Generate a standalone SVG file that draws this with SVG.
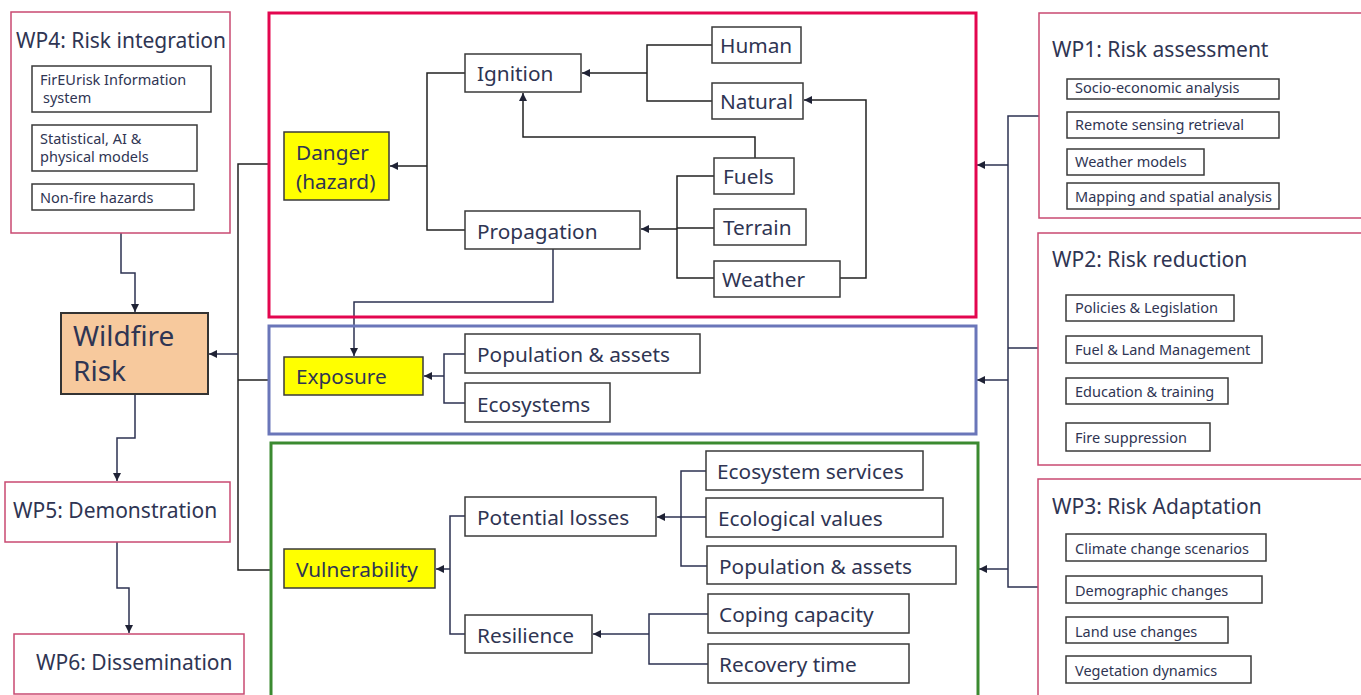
<svg xmlns="http://www.w3.org/2000/svg" width="1361" height="695" viewBox="0 0 1361 695">
<defs>
<marker id="arr" markerUnits="userSpaceOnUse" markerWidth="9" markerHeight="9" refX="8" refY="4" orient="auto">
<path d="M0,0 L8,4 L0,8 z" fill="#1f2235"/>
</marker>
<style>
text{font-family:"Noto Sans","Open Sans","DejaVu Sans",sans-serif;fill:#2f3553}
.wp{fill:#fff;stroke:#c94a72;stroke-width:1.5}
.box{fill:#fff;stroke:#3a3a3a;stroke-width:1.5}
.key{fill:#ffff00;stroke:#3a3a3a;stroke-width:1.5}
.t20{font-size:20.8px}
.tt{font-size:21px}
.t14{font-size:14.5px}
.c{fill:none;stroke:#222;stroke-width:1.5}
.n{fill:none;stroke:#2d3252;stroke-width:1.5}
.a{marker-end:url(#arr)}
</style>
</defs>
<rect width="1361" height="695" fill="#fff"/>

<g id="connectors">
<path class="n a" d="M121,233 V273 H135 V312"/>
<path class="n a" d="M135,394 V438 H117 V481"/>
<path class="n a" d="M117,542 V588 H129 V633"/>
<path class="c" d="M270,164 H238 V570 H271 M238,380 H270"/>
<path class="n a" d="M238,354 H209"/>
<path class="c" d="M465,73 H427 V230 H465"/>
<path class="c a" d="M427,166 H390"/>
<path class="c" d="M712,45 H647 V101 H712"/>
<path class="c a" d="M647,73 H582"/>
<path class="c a" d="M755,158 V137 H523 V93"/>
<path class="c a" d="M840,278 H866 V100 H804"/>
<path class="c" d="M714,176 H677 V278 H714 M677,228 H714"/>
<path class="c a" d="M677,229 H641"/>
<path class="n a" d="M553,249 V302 H354 V356"/>
<path class="n" d="M465,354 H444 V403 H465"/>
<path class="n a" d="M444,376 H424"/>
<path class="n" d="M465,516 H450 V634 H465"/>
<path class="n a" d="M450,569 H436"/>
<path class="n" d="M706,471 H681 V566 H707 M681,517 H706"/>
<path class="n a" d="M681,517 H657"/>
<path class="n" d="M708,614 H649 V664 H708"/>
<path class="n a" d="M649,634 H593"/>
<path class="n" d="M1039,116 H1008 V587 H1038 M1008,348 H1038"/>
<path class="n a" d="M1008,165 H977"/>
<path class="n a" d="M1008,380 H977"/>
<path class="n a" d="M1008,569 H979"/>
</g>

<g id="wp4">
<rect class="wp" x="11" y="12" width="219" height="221"/>
<text class="tt" x="16" y="48">WP4: Risk integration</text>
<rect class="box" x="32" y="66" width="179" height="46"/>
<text class="t14" x="40" y="85">FirEUrisk Information</text>
<text class="t14" x="43" y="103">system</text>
<rect class="box" x="32" y="125" width="165" height="46"/>
<text class="t14" x="40" y="144">Statistical, AI &amp;</text>
<text class="t14" x="40" y="162">physical models</text>
<rect class="box" x="32" y="184" width="162" height="26"/>
<text class="t14" x="40" y="203">Non-fire hazards</text>
</g>

<g id="wildfire-risk">
<rect x="61" y="313" width="147" height="81" fill="#f7c99d" stroke="#333" stroke-width="2"/>
<text x="73" y="346" font-size="28">Wildfire</text>
<text x="73" y="381" font-size="28">Risk</text>
</g>

<g id="wp5">
<rect class="wp" x="5" y="482" width="225" height="60"/>
<text class="tt" x="13" y="518">WP5: Demonstration</text>
</g>

<g id="wp6">
<rect class="wp" x="14" y="634" width="230" height="60"/>
<text class="tt" x="36" y="670">WP6: Dissemination</text>
</g>

<g id="danger-group">
<rect x="269" y="13" width="707" height="304" fill="none" stroke="#e3064f" stroke-width="3"/>
</g>
<g id="danger">
<rect class="key" x="284" y="132" width="105" height="68"/>
<text class="t20" x="296" y="160">Danger</text>
<text class="t20" x="296" y="189">(hazard)</text>
</g>
<g id="ignition"><rect class="box" x="465" y="54" width="116" height="38"/><text class="t20" x="477" y="81">Ignition</text></g>
<g id="propagation"><rect class="box" x="465" y="211" width="175" height="38"/><text class="t20" x="477" y="239">Propagation</text></g>
<g id="human"><rect class="box" x="712" y="27" width="89" height="36"/><text class="t20" x="720" y="53">Human</text></g>
<g id="natural"><rect class="box" x="712" y="83" width="91" height="36"/><text class="t20" x="720" y="109">Natural</text></g>
<g id="fuels"><rect class="box" x="714" y="158" width="80" height="36"/><text class="t20" x="723" y="184">Fuels</text></g>
<g id="terrain"><rect class="box" x="714" y="209" width="92" height="36"/><text class="t20" x="723" y="235">Terrain</text></g>
<g id="weather"><rect class="box" x="714" y="261" width="126" height="36"/><text class="t20" x="722" y="287">Weather</text></g>

<g id="exposure-group">
<rect x="269" y="326" width="707" height="108" fill="none" stroke="#6a76b9" stroke-width="3"/>
</g>
<g id="exposure"><rect class="key" x="284" y="357" width="139" height="38"/><text class="t20" x="296" y="384">Exposure</text></g>
<g id="population-exposure"><rect class="box" x="465" y="334" width="235" height="39"/><text class="t20" x="477" y="362">Population &amp; assets</text></g>
<g id="ecosystems"><rect class="box" x="465" y="383" width="145" height="39"/><text class="t20" x="477" y="412">Ecosystems</text></g>

<g id="vulnerability-group">
<rect x="271" y="443" width="707" height="262" fill="none" stroke="#3b8a30" stroke-width="3"/>
</g>
<g id="vulnerability"><rect class="key" x="284" y="549" width="151" height="39"/><text class="t20" x="296" y="577">Vulnerability</text></g>
<g id="potential-losses"><rect class="box" x="465" y="497" width="191" height="39"/><text class="t20" x="477" y="525">Potential losses</text></g>
<g id="resilience"><rect class="box" x="465" y="615" width="127" height="38"/><text class="t20" x="477" y="643">Resilience</text></g>
<g id="ecosystem-services"><rect class="box" x="706" y="451" width="217" height="39"/><text class="t20" x="717" y="479">Ecosystem services</text></g>
<g id="ecological-values"><rect class="box" x="706" y="498" width="237" height="39"/><text class="t20" x="718" y="526">Ecological values</text></g>
<g id="population-vulnerability"><rect class="box" x="707" y="546" width="249" height="38"/><text class="t20" x="719" y="574">Population &amp; assets</text></g>
<g id="coping-capacity"><rect class="box" x="708" y="594" width="201" height="39"/><text class="t20" x="719" y="622">Coping capacity</text></g>
<g id="recovery-time"><rect class="box" x="708" y="644" width="201" height="39"/><text class="t20" x="719" y="672">Recovery time</text></g>

<g id="wp1">
<rect class="wp" x="1039" y="13" width="330" height="205"/>
<text class="tt" x="1052" y="57">WP1: Risk assessment</text>
<rect class="box" x="1067" y="79" width="212" height="20"/>
<text class="t14" x="1075" y="93">Socio-economic analysis</text>
<rect class="box" x="1067" y="112" width="212" height="26"/>
<text class="t14" x="1075" y="130">Remote sensing retrieval</text>
<rect class="box" x="1067" y="149" width="137" height="26"/>
<text class="t14" x="1075" y="167">Weather models</text>
<rect class="box" x="1067" y="183" width="212" height="26"/>
<text class="t14" x="1075" y="202">Mapping and spatial analysis</text>
</g>

<g id="wp2">
<rect class="wp" x="1038" y="233" width="330" height="232"/>
<text class="tt" x="1052" y="267">WP2: Risk reduction</text>
<rect class="box" x="1066" y="295" width="168" height="26"/>
<text class="t14" x="1075" y="313">Policies &amp; Legislation</text>
<rect class="box" x="1066" y="336" width="196" height="27"/>
<text class="t14" x="1075" y="355">Fuel &amp; Land Management</text>
<rect class="box" x="1066" y="378" width="162" height="26"/>
<text class="t14" x="1075" y="397">Education &amp; training</text>
<rect class="box" x="1066" y="423" width="144" height="28"/>
<text class="t14" x="1075" y="443">Fire suppression</text>
</g>

<g id="wp3">
<rect class="wp" x="1038" y="479" width="330" height="230"/>
<text class="tt" x="1052" y="514">WP3: Risk Adaptation</text>
<rect class="box" x="1066" y="534" width="200" height="27"/>
<text class="t14" x="1075" y="554">Climate change scenarios</text>
<rect class="box" x="1066" y="576" width="196" height="27"/>
<text class="t14" x="1075" y="596">Demographic changes</text>
<rect class="box" x="1066" y="617" width="162" height="26"/>
<text class="t14" x="1075" y="637">Land use changes</text>
<rect class="box" x="1066" y="656" width="185" height="27"/>
<text class="t14" x="1075" y="676">Vegetation dynamics</text>
</g>
</svg>
